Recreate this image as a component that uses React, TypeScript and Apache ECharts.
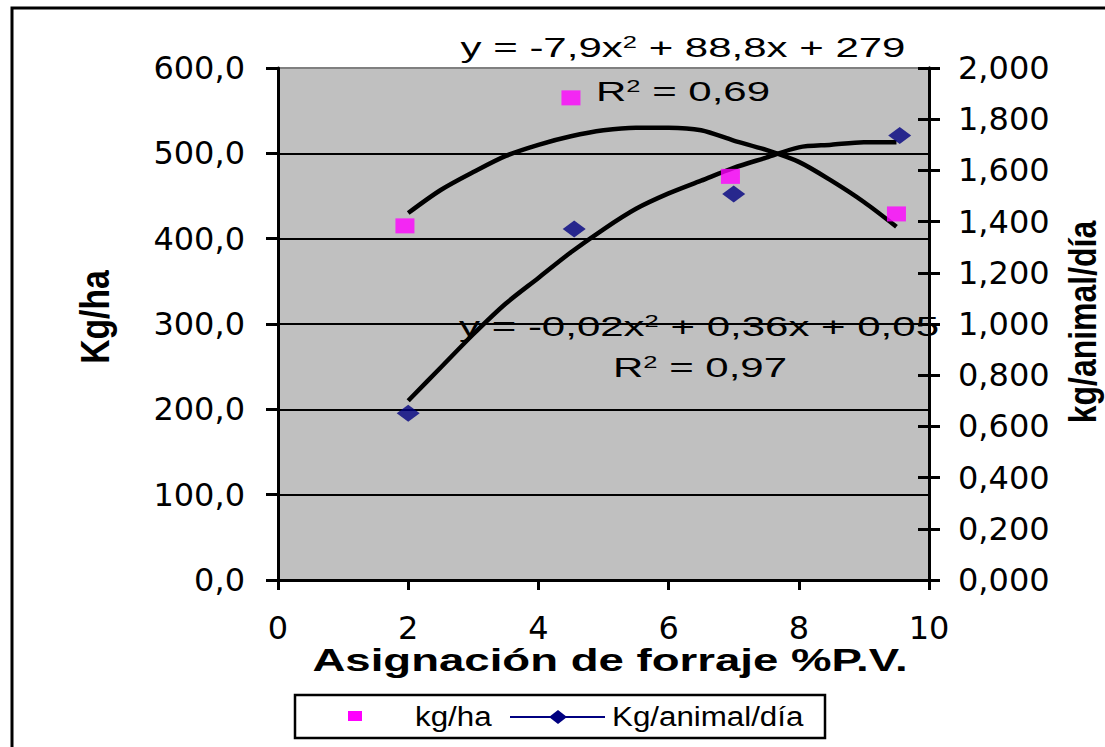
import React, { useEffect, useRef } from "react";
import * as echarts from "echarts";

const xKgHa = [1.95, 4.5, 6.95, 9.5];
const kgHa = [415, 565, 473, 429];
const xKgAnimal = [2, 4.55, 7, 9.55];
const kgAnimal = [0.651, 1.371, 1.508, 1.736];

// Trendline points as drawn in the picture
const trendX = [2, 2.5, 3, 3.5, 4, 4.5, 5, 5.5, 6, 6.5, 7, 7.5, 8, 8.5, 9, 9.5];
const trendKgHa = [430, 457, 478, 497, 510, 520, 527, 530, 530, 527, 515, 504, 490, 468, 443, 414];
const trendKgAnimal = [0.7, 0.83, 0.96, 1.08, 1.18, 1.28, 1.37, 1.45, 1.51, 1.56, 1.61, 1.65, 1.69, 1.7, 1.71, 1.71];

// Axis ranges / ticks
const xRange = [0, 10, 2];
const leftRange = [0, 600, 100];
const rightRange = [0, 2, 0.2];

// Texts
const xTitle = "Asignación de forraje %P.V.";
const leftTitle = "Kg/ha";
const rightTitle = "kg/animal/día";
const seriesNames = ["kg/ha", "Kg/animal/día"];
const eq1 = "y = -7,9x{sup|2} + 88,8x + 279";
const r1 = "R{sup|2} = 0,69";
const eq2 = "y = -0,02x{sup|2} + 0,36x + 0,05";
const r2 = "R{sup|2} = 0,97";

const SANS = "'Liberation Sans', Arial, sans-serif";
const TICKFONT = "'DejaVu Sans', 'Liberation Sans', sans-serif";

export default function App() {
  const ref = useRef<HTMLDivElement>(null);
  useEffect(() => {
    if (!ref.current) return;
    const chart = echarts.init(ref.current, undefined, { renderer: "svg" });
    const gridLeft = 278, gridTop = 68, gridW = 651, gridH = 512;
    const pair = (xs: number[], ys: number[]) => xs.map((x, i) => [x, ys[i]]);
    const eqText = (text: string, x: number, y: number) => ({
      type: "text",
      x,
      y,
      scaleX: 1.5,
      z: 10,
      style: {
        text,
        fontFamily: SANS,
        fontSize: 28,
        fill: "#000",
        align: "center",
        verticalAlign: "middle",
        rich: {
          sup: { fontSize: 17, fontFamily: SANS, verticalAlign: "top", padding: [0, 0, 10, 0] },
        },
      },
    });
    const rightAxisBase = {
      type: "value",
      position: "right",
      min: rightRange[0],
      max: rightRange[1],
      interval: rightRange[2],
      splitLine: { show: false },
      axisLine: { show: true, lineStyle: { color: "#000", width: 3 } },
    };
    chart.setOption({
      animation: false,
      backgroundColor: "#fff",
      textStyle: { fontFamily: SANS },
      grid: {
        left: gridLeft,
        top: gridTop,
        width: gridW,
        height: gridH,
        show: true,
        backgroundColor: "#c0c0c0",
        borderColor: "#808080",
        borderWidth: 2,
      },
      xAxis: {
        type: "value",
        min: xRange[0],
        max: xRange[1],
        interval: xRange[2],
        axisLine: { onZero: false, lineStyle: { color: "#000", width: 3 } },
        axisTick: { show: true, length: 10, lineStyle: { color: "#000", width: 3 } },
        axisLabel: { fontFamily: TICKFONT, fontSize: 32, color: "#000", margin: 32 },
        splitLine: { show: false },
      },
      yAxis: [
        {
          type: "value",
          position: "left",
          min: leftRange[0],
          max: leftRange[1],
          interval: leftRange[2],
          axisLine: { show: true, lineStyle: { color: "#000", width: 3 } },
          axisTick: { show: true, length: 12, lineStyle: { color: "#000", width: 3 } },
          axisLabel: {
            fontFamily: TICKFONT,
            fontSize: 32,
            color: "#000",
            margin: 33,
            formatter: (v: number) => v.toFixed(1).replace(".", ","),
          },
          splitLine: {
            show: true,
            showMinLine: false,
            showMaxLine: false,
            lineStyle: { color: "#000", width: 2 },
          },
        },
        {
          ...rightAxisBase,
          axisTick: { show: true, length: 11, lineStyle: { color: "#000", width: 3 } },
          axisLabel: {
            fontFamily: TICKFONT,
            fontSize: 32,
            color: "#000",
            margin: 29,
            formatter: (v: number) => v.toFixed(3).replace(".", ","),
          },
        },
        {
          ...rightAxisBase,
          axisTick: { show: true, inside: true, length: 11, lineStyle: { color: "#000", width: 3 } },
          axisLabel: { show: false },
        },
      ],
      series: [
        {
          name: "trend kg/ha",
          type: "line",
          yAxisIndex: 0,
          data: pair(trendX, trendKgHa),
          showSymbol: false,
          smooth: 0.3,
          lineStyle: { color: "#000", width: 4.5 },
          z: 3,
        },
        {
          name: "trend kg/animal",
          type: "line",
          yAxisIndex: 1,
          data: pair(trendX, trendKgAnimal),
          showSymbol: false,
          smooth: 0.3,
          lineStyle: { color: "#000", width: 4.5 },
          z: 3,
        },
        {
          name: seriesNames[0],
          type: "scatter",
          yAxisIndex: 0,
          data: pair(xKgHa, kgHa),
          symbol: "rect",
          symbolSize: [19, 15],
          itemStyle: { color: "#ff00ff" },
          z: 4,
        },
        {
          name: seriesNames[1],
          type: "scatter",
          yAxisIndex: 1,
          data: pair(xKgAnimal, kgAnimal),
          symbol: "diamond",
          symbolSize: [23, 17],
          itemStyle: { color: "#000080" },
          z: 4,
        },
      ],
      graphic: [
        {
          type: "rect",
          shape: { x: 12, y: 8, width: 1200, height: 800 },
          style: { fill: "none", stroke: "#000", lineWidth: 3 },
          z: 20,
        },
        eqText(eq1, 683, 48),
        eqText(r1, 683, 92),
        eqText(eq2, 699, 327),
        eqText(r2, 700, 368),
        {
          type: "text",
          x: 610,
          y: 660,
          scaleX: 1.47,
          style: {
            text: xTitle,
            fontFamily: SANS,
            fontSize: 31,
            fontWeight: "bold",
            fill: "#000",
            align: "center",
            verticalAlign: "middle",
          },
        },
        {
          type: "text",
          x: 95,
          y: 317,
          rotation: Math.PI / 2,
          scaleX: 0.82,
          style: {
            text: leftTitle,
            fontFamily: SANS,
            fontSize: 41,
            fontWeight: "bold",
            fill: "#000",
            align: "center",
            verticalAlign: "middle",
          },
        },
        {
          type: "text",
          x: 1083,
          y: 322,
          rotation: Math.PI / 2,
          scaleX: 0.82,
          style: {
            text: rightTitle,
            fontFamily: SANS,
            fontSize: 39,
            fontWeight: "bold",
            fill: "#000",
            align: "center",
            verticalAlign: "middle",
          },
        },
        // legend
        {
          type: "rect",
          shape: { x: 295, y: 695, width: 530, height: 43 },
          style: { fill: "#fff", stroke: "#000", lineWidth: 2.5 },
        },
        {
          type: "rect",
          shape: { x: 348, y: 711, width: 14, height: 10 },
          style: { fill: "#ff00ff" },
        },
        {
          type: "text",
          x: 415,
          y: 717,
          scaleX: 1.16,
          style: {
            text: seriesNames[0],
            fontFamily: SANS,
            fontSize: 27,
            fill: "#000",
            align: "left",
            verticalAlign: "middle",
          },
        },
        {
          type: "line",
          shape: { x1: 510, y1: 717, x2: 605, y2: 717 },
          style: { stroke: "#000080", lineWidth: 2 },
        },
        {
          type: "polygon",
          shape: { points: [[549, 717], [558, 710], [567, 717], [558, 724]] },
          style: { fill: "#000080" },
        },
        {
          type: "text",
          x: 612,
          y: 717,
          scaleX: 1.16,
          style: {
            text: seriesNames[1],
            fontFamily: SANS,
            fontSize: 27,
            fill: "#000",
            align: "left",
            verticalAlign: "middle",
          },
        },
      ],
    });
    return () => chart.dispose();
  }, []);
  return (
    <div
      ref={ref}
      style={{ position: "fixed", left: 0, top: 0, width: 1105, height: 747, background: "#fff" }}
    />
  );
}
